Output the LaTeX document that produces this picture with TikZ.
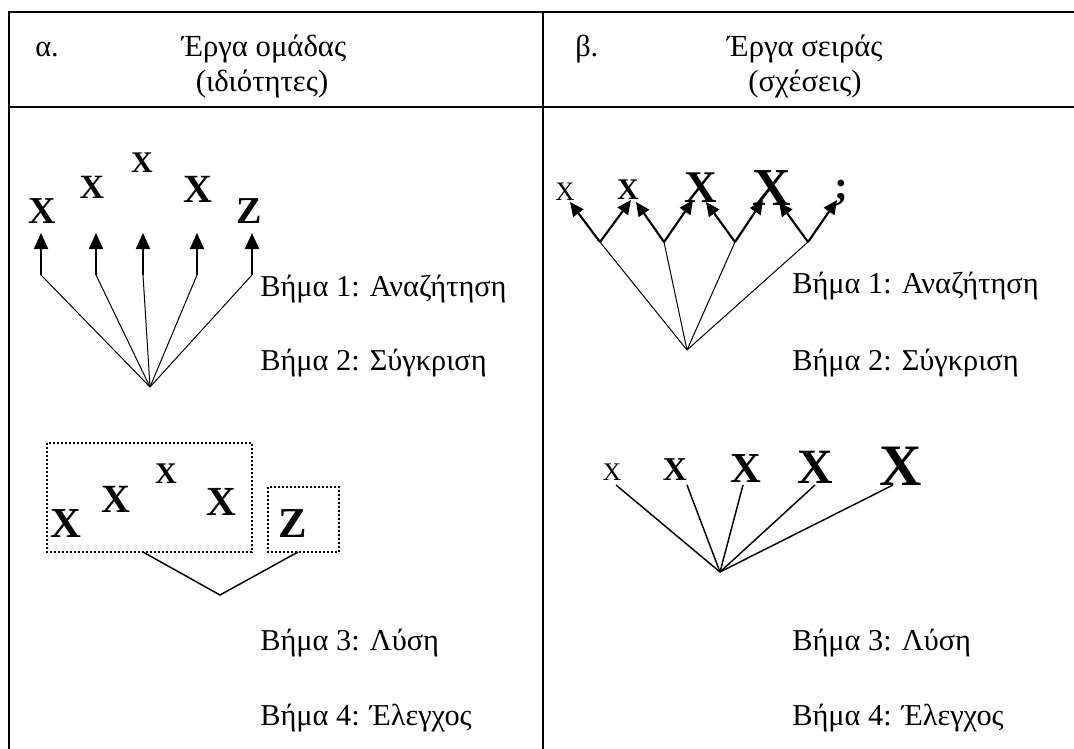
\documentclass[tikz,border=0pt]{standalone}
\usepackage{fontspec}
\setmainfont{Liberation Serif}
\usepackage{tikz}
\usetikzlibrary{arrows.meta}

\newcommand{\fsz}[1]{\fontsize{#1}{#1}\selectfont}

\tikzset{
  rule/.style={line width=1.5pt},
  lbl/.style={anchor=base west,inner sep=0pt,font=\fsz{22.75}},
  hd/.style={anchor=base,inner sep=0pt,font=\fsz{23}},
  var/.style={anchor=base,inner sep=0pt,font=\bfseries\fsz{#1}},
  varn/.style={anchor=base,inner sep=0pt,font=\fsz{#1}},
  stem/.style={line width=1.6pt,-{Triangle[length=12pt,width=10.5pt]}},
  zig/.style={line width=1.6pt,-{Triangle[length=10.5pt,width=9.5pt]}},
  ray/.style={line width=0.75pt},
  box/.style={line width=1.7pt,dash pattern=on 1.5pt off 1.5pt},
}

\begin{document}
\begin{tikzpicture}[x=0.75pt,y=-0.75pt]
\useasboundingbox (0,0) rectangle (1074,749);

% table
\draw[rule] (9,749) -- (9,12) -- (1074,12);
\draw[rule] (9,107) -- (1074,107);
\draw[rule] (543,12) -- (543,749);

% headers
\node[lbl] (ha) at (35,57) {α.};
\node[hd] (hA1) at (264,57) {Έργα ομάδας};
\node[hd] (hA2) at (262,92) {(ιδιότητες)};
\node[lbl] (hb) at (575,57) {β.};
\node[hd] (hB1) at (805,57) {Έργα σειράς};
\node[hd] (hB2) at (805,92) {(σχέσεις)};

%%% alpha: steps 1-2
\node[var=28.5] (X1) at (42,223) {X};
\node[var=25.5] (X2) at (92,198) {X};
\node[var=22.5] (X3) at (142,172) {X};
\node[var=30] (X4) at (198,202) {X};
\node[var=28.5] (Z) at (249,223) {Z};
\coordinate (O) at (150,387);
\coordinate (A1) at (41,275);
\coordinate (A2) at (96,275);
\coordinate (A3) at (143,275);
\coordinate (A4) at (197,275);
\coordinate (A5) at (252,275);
\coordinate (T1) at (41,233);
\coordinate (T2) at (96,233);
\coordinate (T3) at (143,233);
\coordinate (T4) at (197,233);
\coordinate (T5) at (252,233);
\draw[stem] (A1)--(T1);
\draw[stem] (A2)--(T2);
\draw[stem] (A3)--(T3);
\draw[stem] (A4)--(T4);
\draw[stem] (A5)--(T5);
\draw[ray] (O)--(A1);
\draw[ray] (O)--(A2);
\draw[ray] (O)--(A3);
\draw[ray] (O)--(A4);
\draw[ray] (O)--(A5);
\node[lbl] (s1a) at (260,296) {Βήμα 1: Αναζήτηση};
\node[lbl] (s2a) at (260,370) {Βήμα 2: Σύγκριση};

%%% alpha: steps 3-4
\node[var=32] (Y1) at (66,537) {X};
\node[var=30] (Y2) at (116,512) {X};
\node[var=22.5] (Y3) at (166,483) {X};
\node[var=31] (Y4) at (221,515) {X};
\node[var=32] (YZ) at (293,537) {Z};
\draw[box] (47,443) rectangle (252,552);
\draw[box] (268,487) rectangle (339,552);
\coordinate (G1) at (143,552);
\coordinate (G2) at (298,552);
\coordinate (GV) at (220,595);
\draw[line width=1.1pt] (G1)--(GV)--(G2);
\node[lbl] (s3a) at (260,650) {Βήμα 3: Λύση};
\node[lbl] (s4a) at (260,725) {Βήμα 4: Έλεγχος};

%%% beta: steps 1-2
\begin{scope}
\node[varn=20] (x1) at (565,200) {X};
\node[var=22.5] (x2) at (628,199) {X};
\node[var=34] (x3) at (701,202) {X};
\node[var=40] (x4) at (772,205) {X};
\node[var=31] (q) at (841,199) {;};
\coordinate (P) at (687,350);
\coordinate (V1) at (600,242);
\coordinate (V2) at (664,242);
\coordinate (V3) at (735,242);
\coordinate (V4) at (808,242);
\coordinate (L1) at (570,202);
\coordinate (R1) at (631,200);
\coordinate (L2) at (636,202);
\coordinate (R2) at (693,200);
\coordinate (L3) at (706,202);
\coordinate (R3) at (763,200);
\coordinate (L4) at (779,202);
\coordinate (R4) at (837,200);
\draw[zig] (V1)--(L1);
\draw[zig] (V1)--(R1);
\draw[zig] (V2)--(L2);
\draw[zig] (V2)--(R2);
\draw[zig] (V3)--(L3);
\draw[zig] (V3)--(R3);
\draw[zig] (V4)--(L4);
\draw[zig] (V4)--(R4);
\draw[ray] (P)--(V1);
\draw[ray] (P)--(V2);
\draw[ray] (P)--(V3);
\draw[ray] (P)--(V4);
\end{scope}
\node[lbl] (s1b) at (792,293) {Βήμα 1: Αναζήτηση};
\node[lbl] (s2b) at (792,370) {Βήμα 2: Σύγκριση};

%%% beta: steps 3-4
\node[varn=19] (w1) at (612,480) {X};
\node[var=25] (w2) at (675,480) {X};
\node[var=32] (w3) at (746,482) {X};
\node[var=37] (w4) at (815,483) {X};
\node[var=44] (w5) at (901,485) {X};
\coordinate (Q) at (720,572);
\coordinate (E1) at (616,485);
\coordinate (E2) at (687,485);
\coordinate (E3) at (743,485);
\coordinate (E4) at (815,485);
\coordinate (E5) at (893,485);
\draw[line width=1.1pt] (Q)--(E1);
\draw[line width=1.1pt] (Q)--(E2);
\draw[line width=1.1pt] (Q)--(E3);
\draw[line width=1.1pt] (Q)--(E4);
\draw[line width=1.1pt] (Q)--(E5);
\node[lbl] (s3b) at (792,650) {Βήμα 3: Λύση};
\node[lbl] (s4b) at (792,725) {Βήμα 4: Έλεγχος};

\end{tikzpicture}
\end{document}
